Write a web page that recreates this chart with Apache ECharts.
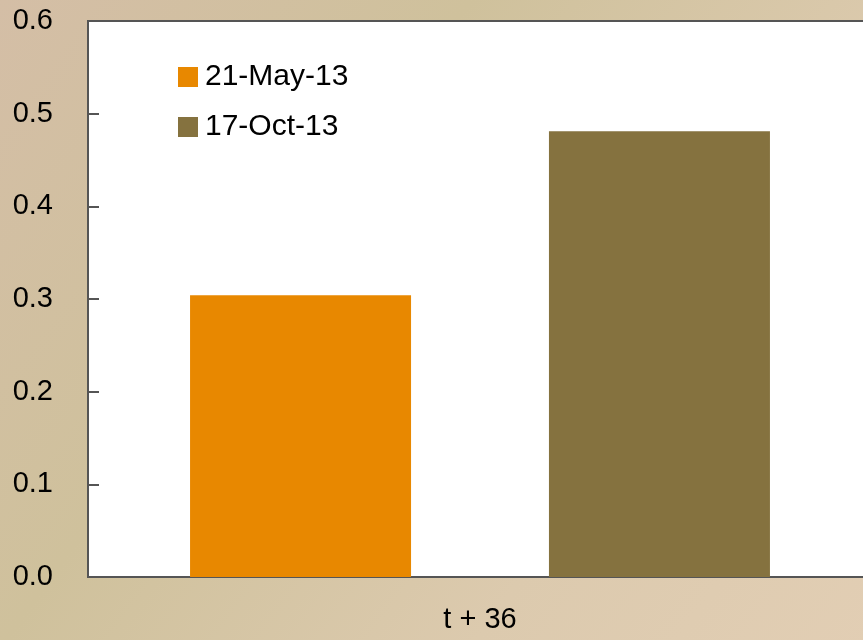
<!DOCTYPE html>
<html><head><meta charset="utf-8">
<script src="https://cdn.jsdelivr.net/npm/echarts@6/dist/echarts.min.js"></script>
<style>html,body{margin:0;padding:0;overflow:hidden;width:863px;height:640px;}#c{width:880px;height:640px;}</style>
</head><body><div id="c"></div>
<script>
const categories = ['t + 36'];
const seriesNames = ['21-May-13', '17-Oct-13'];
const seriesMay = [0.304];
const seriesOct = [0.481];
const yTicks = [0, 0.1, 0.2, 0.3, 0.4, 0.5, 0.6];

const FONT = '"Liberation Sans", Arial, sans-serif';
const chart = echarts.init(document.getElementById('c'), null, {renderer: 'canvas'});
chart.setOption({
  animation: false,
  backgroundColor: {
    type: 'linear', x: 0, y: 0, x2: 1, y2: 1,
    colorStops: [
      {offset: 0, color: '#d4bea6'},
      {offset: 0.35, color: '#cfc19c'},
      {offset: 0.7, color: '#dccaae'},
      {offset: 1, color: '#e2ceb4'}
    ]
  },
  grid: {
    left: 88, top: 21, right: 8, bottom: 63,
    show: true, backgroundColor: '#ffffff', borderColor: '#555555', borderWidth: 2
  },
  legend: {
    left: 178, top: 62, orient: 'vertical', padding: 0,
    itemWidth: 20, itemHeight: 20, itemGap: 20,
    icon: 'rect',
    textStyle: {fontFamily: FONT, fontSize: 30, lineHeight: 30, color: '#000', padding: [0,0,0,2]},
    data: seriesNames
  },
  xAxis: {
    type: 'category', data: categories,
    axisLine: {lineStyle: {color: '#555555', width: 2}},
    axisTick: {show: false},
    axisLabel: {fontFamily: FONT, fontSize: 29, color: '#000', margin: 28}
  },
  yAxis: {
    type: 'value', min: 0, max: 0.6, interval: 0.1,
    axisLine: {show: true, lineStyle: {color: '#555555', width: 2}},
    axisTick: {show: true, inside: true, length: 11, lineStyle: {color: '#555555', width: 2}},
    splitLine: {show: false},
    axisLabel: {fontFamily: FONT, fontSize: 29, color: '#000', margin: 35,
      formatter: v => v.toFixed(1)}
  },
  series: [
    {name: seriesNames[0], type: 'bar', data: seriesMay, barWidth: 221, barGap: '62.4%',
     itemStyle: {color: '#e88800'}},
    {name: seriesNames[1], type: 'bar', data: seriesOct, barWidth: 221,
     itemStyle: {color: '#85723f'}}
  ]
});
</script></body></html>
